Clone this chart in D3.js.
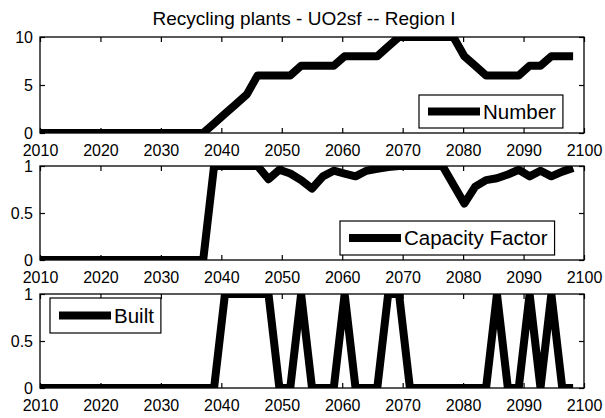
<!DOCTYPE html>
<html><head><meta charset="utf-8">
<script src="https://cdn.jsdelivr.net/npm/d3@7/dist/d3.min.js"></script>
<style>
body{margin:0;background:#fff;}
text{font-family:"Liberation Sans",Arial,Helvetica,sans-serif;fill:#000;}
</style>
</head><body>
<svg id="chart" width="605" height="418"></svg>
<script>
// ---- data (time steps of the simulation, in years) ----
const years = [2010,2011.8,2013.6,2015.4,2017.2,2019,2020.8,2022.6,2024.4,2026.2,
2028,2029.8,2031.6,2033.4,2035.2,2037,2038.8,2040.6,2042.4,2044.2,
2046,2047.8,2049.6,2051.4,2053.2,2055,2056.8,2058.6,2060.4,2062.2,
2064,2065.8,2067.6,2069.4,2071.2,2073,2074.8,2076.6,2078.4,2080.2,
2082,2083.8,2085.6,2087.4,2089.2,2091,2092.8,2094.6,2096.4,2098.2];

const numberPlants = [0,0,0,0,0,0,0,0,0,0,
0,0,0,0,0,0,1,2,3,4,
6,6,6,6,7,7,7,7,8,8,
8,8,9,10,10,10,10,10,10,8,
7,6,6,6,6,7,7,8,8,8];

const capacityFactor = [0,0,0,0,0,0,0,0,0,0,
0,0,0,0,0,0,1,1,1,1,
1,0.86,0.96,0.92,0.85,0.76,0.89,0.95,0.92,0.89,
0.95,0.97,0.99,1,1,1,1,1,0.8,0.6,
0.78,0.85,0.87,0.91,0.96,0.89,0.95,0.89,0.94,0.98];

const built = [0,0,0,0,0,0,0,0,0,0,
0,0,0,0,0,0,0,1,1,1,
1,1,0,0,1,0,0,0,1,0,
0,0,1,1,0,0,0,0,0,0,
0,0,1,0,0,1,0,1,0,0];

const xTicks = [2010,2020,2030,2040,2050,2060,2070,2080,2090,2100];
const title = "Recycling plants - UO2sf -- Region I";
const legendLabels = ["Number","Capacity Factor","Built"];
const yTicksNumber = [0,5,10];
const yTicksFrac = [0,0.5,1];

// ---- layout ----
const svg = d3.select("#chart");
const L = 40, R = 584;
const x = d3.scaleLinear().domain([2010,2100]).range([L,R]);

const panels = [
  {vals:numberPlants, dom:[0,10], ticks:yTicksNumber, top:37, bot:133,
   leg:{x:419, y:95, h:33}},
  {vals:capacityFactor, dom:[0,1], ticks:yTicksFrac, top:166, bot:260,
   leg:{x:340, y:221, h:34}},
  {vals:built, dom:[0,1], ticks:yTicksFrac, top:294, bot:388,
   leg:{x:50, y:298, h:35}}
];

svg.append("text").attr("x",304).attr("y",25).attr("text-anchor","middle")
  .style("font-size","19px").text(title);

panels.forEach((p,i)=>{
  const y = d3.scaleLinear().domain(p.dom).range([p.bot,p.top]);
  const g = svg.append("g");
  const cid = "clip"+i;
  svg.append("clipPath").attr("id",cid).append("rect")
    .attr("x",L).attr("y",p.top).attr("width",R-L).attr("height",p.bot-p.top);

  const line = d3.line().x((d,j)=>x(years[j])).y(d=>y(d));
  g.append("path").datum(p.vals).attr("d",line)
    .attr("clip-path",`url(#${cid})`)
    .attr("fill","none").attr("stroke","#000").attr("stroke-width",8)
    .attr("stroke-linejoin","round").attr("stroke-linecap","butt");

  // axes
  const fmt = d3.format("");
  const ab = g.append("g").attr("transform",`translate(0,${p.bot})`)
    .call(d3.axisBottom(x).tickValues(xTicks).tickFormat(fmt).tickSizeInner(-5).tickSizeOuter(0).tickPadding(12));
  const at = g.append("g").attr("transform",`translate(0,${p.top})`)
    .call(d3.axisTop(x).tickValues(xTicks).tickFormat("").tickSizeInner(-5).tickSizeOuter(0));
  const al = g.append("g").attr("transform",`translate(${L},0)`)
    .call(d3.axisLeft(y).tickValues(p.ticks).tickFormat(d=>String(d)).tickSizeInner(-5).tickSizeOuter(0).tickPadding(7));
  const ar = g.append("g").attr("transform",`translate(${R},0)`)
    .call(d3.axisRight(y).tickValues(p.ticks).tickFormat("").tickSizeInner(-5).tickSizeOuter(0));
  [ab,at,al,ar].forEach(a=>{
    a.select(".domain").remove();
    a.selectAll("line").attr("stroke","#000").attr("stroke-width",1.2);
    a.selectAll("text").style("font-size","16px").attr("fill","#000");
  });
  al.selectAll("text").attr("dy","0.33em");
  g.append("rect").attr("x",L).attr("y",p.top).attr("width",R-L).attr("height",p.bot-p.top)
    .attr("fill","none").attr("stroke","#000").attr("stroke-width",1.3);

  // legend
  const lg = g.append("g");
  const box = lg.append("rect").attr("x",p.leg.x).attr("y",p.leg.y).attr("height",p.leg.h)
    .attr("fill","#fff").attr("stroke","#000").attr("stroke-width",1.2);
  const cy = p.leg.y + p.leg.h/2;
  lg.append("line").attr("x1",p.leg.x+9).attr("x2",p.leg.x+61).attr("y1",cy).attr("y2",cy)
    .attr("stroke","#000").attr("stroke-width",8);
  const t = lg.append("text").attr("x",p.leg.x+64).attr("y",cy).attr("dy","0.36em")
    .style("font-size","20.5px").text(legendLabels[i]);
  const tw = t.node().getComputedTextLength();
  box.attr("width", 64 + tw + 7);
});
</script>
</body></html>
